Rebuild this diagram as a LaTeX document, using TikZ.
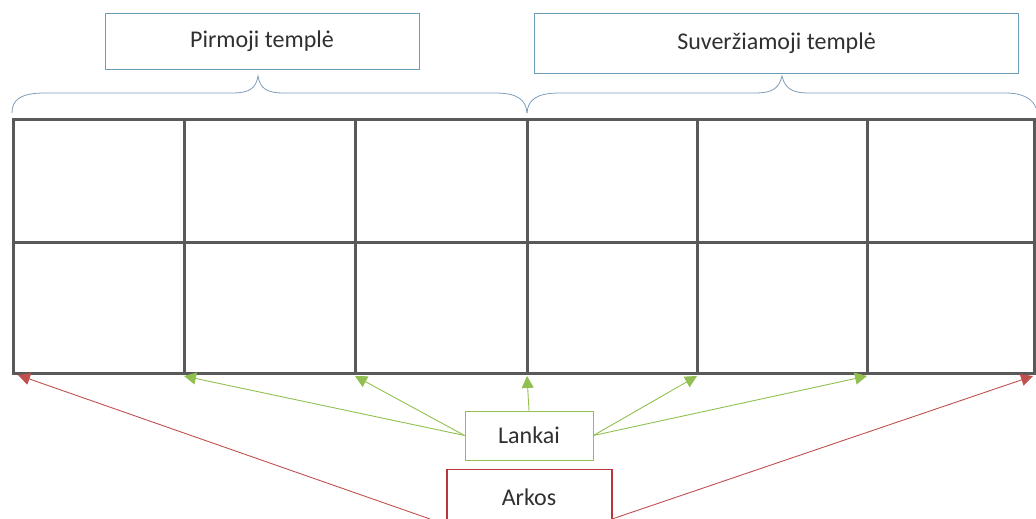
\documentclass[tikz,border=0pt]{standalone}
\usepackage{fontspec}
\setmainfont{Carlito}
\usetikzlibrary{arrows.meta}
\definecolor{gridc}{HTML}{595959}
\definecolor{boxc}{HTML}{6E9DB8}
\definecolor{bracec}{HTML}{7F9DB9}
\definecolor{greenc}{HTML}{92C050}
\definecolor{redc}{HTML}{C0504D}
\definecolor{darkredc}{HTML}{B8363A}
\definecolor{textc}{HTML}{303030}
\begin{document}
\begin{tikzpicture}[x=1pt,y=-1pt,
  gridline/.style={draw=gridc,line width=3pt},
  tbox/.style={line width=0.8pt,fill=white,text=textc,font=\fontsize{24}{28}\selectfont,inner sep=0pt},
  brace/.style={draw=bracec,line width=0.8pt},
  garrow/.style={draw=greenc,line width=0.9pt,-{Triangle[length=12pt,width=12pt]}},
  rarrow/.style={draw=redc,line width=0.9pt,-{Triangle[length=12pt,width=12pt]}}]
\useasboundingbox (0,0) rectangle (1036,519);
% grid
\foreach \x in {13,184,355,527,697,867,1034}
  \draw[gridline] (\x,119) -- (\x,374);
\foreach \y in {119,242,373}
  \draw[gridline] (12,\y) -- (1036,\y);
% coordinates at bottom joints
\coordinate (j0) at (18,375);
\coordinate (j1) at (184,376);
\coordinate (j2) at (355,376);
\coordinate (j3) at (527,376);
\coordinate (j4) at (697,376);
\coordinate (j5) at (867,376);
\coordinate (j6) at (1033,376);
% braces
\draw[brace] (12,113) .. controls (12,100) and (20,93) .. (45,93)
  -- (232,93) .. controls (250,93) and (256,88) .. (258,76)
  .. controls (260,88) and (266,93) .. (284,93)
  -- (495,93) .. controls (518,93) and (526,100) .. (527,113);
\draw[brace] (527,113) .. controls (528,100) and (536,93) .. (560,93)
  -- (755,93) .. controls (773,93) and (779,88) .. (782,76)
  .. controls (785,88) and (791,93) .. (809,93)
  -- (1005,93) .. controls (1025,93) and (1033,100) .. (1036,108);
% title boxes
\node[tbox,draw=boxc,minimum width=314pt,minimum height=56pt] (p) at (262,41) {Pirmoji templė};
\node[tbox,draw=boxc,minimum width=484pt,minimum height=60pt] (s) at (776.5,43.5) {Suveržiamoji templė};
% Lankai / Arkos
\node[tbox,draw=greenc,minimum width=128pt,minimum height=49pt] (l) at (529,435.5) {Lankai};
\node[tbox,draw=darkredc,line width=1.2pt,minimum width=165pt,minimum height=60pt,anchor=north] (a) at (529.5,469) {};
\node[text=textc,font=\fontsize{24}{28}\selectfont] (at) at (529,497) {Arkos};
\coordinate (aw) at (430,519);
\coordinate (ae) at (612,519);
\draw[garrow] (l.west) -- (j1);
\draw[garrow] (l.west) -- (j2);
\draw[garrow] (l.north) -- (j3);
\draw[garrow] (l.east) -- (j4);
\draw[garrow] (l.east) -- (j5);
\draw[rarrow] (aw) -- (j0);
\draw[rarrow] (ae) -- (j6);
\end{tikzpicture}
\end{document}
